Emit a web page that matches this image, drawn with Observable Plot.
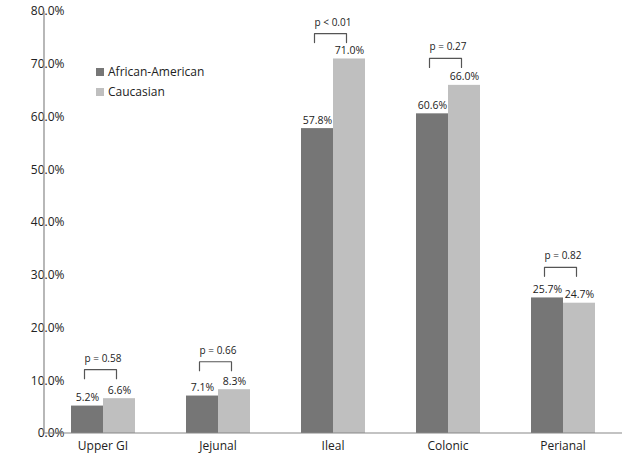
<!DOCTYPE html>
<html>
<head>
<meta charset="utf-8">
<script src="https://cdn.jsdelivr.net/npm/d3@7"></script>
<script src="https://cdn.jsdelivr.net/npm/@observablehq/plot@0.6"></script>
<style>
  html, body { margin: 0; padding: 0; background: #fff; }
  #wrap { position: relative; width: 624px; height: 457px; font-family: "Open Sans", sans-serif; }
  .legend { position: absolute; left: 96px; top: 62px; font-size: 12px; color: #222; line-height: 20px; }
  .legend span.sw { display: inline-block; width: 8px; height: 8px; margin-right: 4px; vertical-align: -0px; }
</style>
</head>
<body>
<div id="wrap"></div>
<script>
const categories = ["Upper GI", "Jejunal", "Ileal", "Colonic", "Perianal"];
const seriesNames = ["African-American", "Caucasian"];
const africanAmerican = [5.2, 7.1, 57.8, 60.6, 25.7];
const caucasian = [6.6, 8.3, 71.0, 66.0, 24.7];
const pLabels = ["p = 0.58", "p = 0.66", "p < 0.01", "p = 0.27", "p = 0.82"];
const bracketTop = [12.1, 13.6, 75.8, 71.1, 31.5];
const bracketDrop = 1.7;
const yTicks = [0, 10, 20, 30, 40, 50, 60, 70, 80];
const colors = ["#767676", "#bfbfbf"];

const rows = [];
categories.forEach((c, i) => {
  rows.push({category: c, series: seriesNames[0], value: africanAmerican[i]});
  rows.push({category: c, series: seriesNames[1], value: caucasian[i]});
});
const bracketPts = [];
categories.forEach((c, i) => {
  bracketPts.push({category: c, series: seriesNames[0], y: bracketTop[i] - bracketDrop});
  bracketPts.push({category: c, series: seriesNames[0], y: bracketTop[i]});
  bracketPts.push({category: c, series: seriesNames[1], y: bracketTop[i]});
  bracketPts.push({category: c, series: seriesNames[1], y: bracketTop[i] - bracketDrop});
});
const pRows = categories.map((c, i) => ({category: c, label: pLabels[i], y: bracketTop[i]}));

const chart = Plot.plot({
  width: 624,
  height: 457,
  marginLeft: 44,
  marginRight: 4,
  marginTop: 11,
  marginBottom: 24,
  style: {fontFamily: "Open Sans, sans-serif", fontSize: "12px", color: "#222", background: "#fff"},
  fx: {domain: categories, paddingInner: 0.435, paddingOuter: 0.2175, align: 0.5, label: null, axis: "bottom", tickSize: 0, tickPadding: 8},
  x: {domain: seriesNames, padding: 0, axis: null},
  y: {domain: [0, 80], ticks: yTicks, tickFormat: d => d.toFixed(1) + "%", tickSize: 0, tickPadding: 6, label: null, axis: "left"},
  color: {domain: seriesNames, range: colors},
  marks: [
    Plot.barY(rows, {fx: "category", x: "series", y: "value", fill: "series"}),
    Plot.text(rows, {fx: "category", x: "series", y: "value", text: d => d.value.toFixed(1) + "%", lineAnchor: "bottom", dy: -5, fontSize: 10.5, fill: "#222"}),
    Plot.line(bracketPts, {fx: "category", x: "series", y: "y", z: "category", stroke: "#555", strokeWidth: 1.2, dx: -3}),
    Plot.text(pRows, {fx: "category", y: "y", text: "label", lineAnchor: "bottom", dy: -8, fontSize: 10, fill: "#222"})
  ]
});

document.getElementById("wrap").appendChild(chart);

// axis lines using the chart's scales
const ys = chart.scale("y");
const svg = d3.select(chart.tagName.toLowerCase() === "svg" ? chart : chart.querySelector("svg"));
const y0 = ys.apply(0);
svg.append("line").attr("x1", 44).attr("x2", 622).attr("y1", y0).attr("y2", y0).attr("stroke", "#888").attr("stroke-width", 1.2);
svg.append("line").attr("x1", 44).attr("x2", 44).attr("y1", ys.apply(80)).attr("y2", y0).attr("stroke", "#888").attr("stroke-width", 1.2);

const legend = document.createElement("div");
legend.className = "legend";
legend.innerHTML = seriesNames.map((s, i) => `<div><span class="sw" style="background:${colors[i]}"></span>${s}</div>`).join("");
document.getElementById("wrap").appendChild(legend);
</script>
</body>
</html>
